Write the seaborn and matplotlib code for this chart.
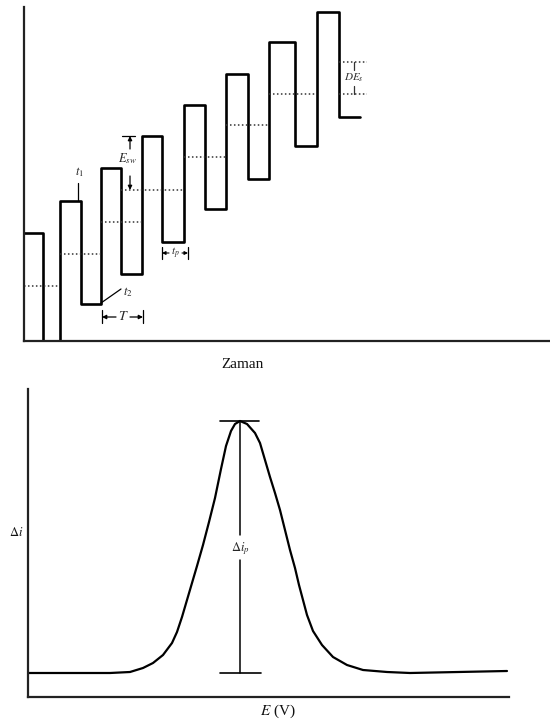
import matplotlib
matplotlib.use("Agg")
import matplotlib.pyplot as plt
import seaborn as sns
import pandas as pd

# ---------------- data ----------------
# Top: staircase square-wave potential (time units arbitrary)
t_edges = [0.0, 1.9, 3.6, 5.7, 7.7, 9.7, 11.8, 13.8, 16.0, 18.1, 20.2, 22.4,
           24.5, 27.1, 29.3, 31.5, 33.6]
E_levels = [10.8, 0.0, 14.0, 3.7, 17.3, 6.7, 20.5, 9.9, 23.6, 13.2, 26.7, 16.2,
            29.9, 19.5, 32.9, 22.4, 22.4]
# dotted staircase mid-levels: (start, end, level)
mid_start = [0.0, 3.6, 7.7, 9.7, 16.0, 20.2, 24.5, 31.5, 31.5]
mid_end = [3.6, 7.7, 11.8, 16.0, 20.2, 24.5, 29.3, 34.3, 34.3]
mid_level = [5.5, 8.7, 11.9, 15.1, 18.4, 21.6, 24.7, 24.7, 27.9]

# Bottom: differential pulse voltammogram
E_V = [0.00, 0.82, 1.02, 1.15, 1.25, 1.35, 1.44, 1.49, 1.54, 1.59, 1.64, 1.69,
       1.75, 1.81, 1.87, 1.93, 1.98, 2.03, 2.07, 2.12, 2.19, 2.27, 2.32, 2.37,
       2.42, 2.47, 2.52, 2.57, 2.62, 2.67, 2.71, 2.75, 2.79, 2.85, 2.94, 3.05,
       3.19, 3.35, 3.59, 3.82, 4.79]
delta_i = [0.24, 0.24, 0.25, 0.29, 0.34, 0.42, 0.54, 0.65, 0.80, 0.97, 1.14, 1.31,
           1.52, 1.75, 1.99, 2.28, 2.51, 2.66, 2.73, 2.76, 2.73, 2.64, 2.54, 2.37,
           2.20, 2.04, 1.87, 1.67, 1.47, 1.29, 1.12, 0.97, 0.82, 0.66, 0.52, 0.40,
           0.32, 0.27, 0.25, 0.24, 0.26]
peak_E = 2.12
peak_top = 2.76
peak_base = 0.24

# ---------------- style ----------------
sns.set_theme(style="white")
plt.rcParams["font.family"] = ["Liberation Serif", "DejaVu Serif"]
plt.rcParams["mathtext.fontset"] = "stix"

fig = plt.figure(figsize=(5.5, 7.23), dpi=100)
fig.patch.set_facecolor("white")

ax1 = fig.add_axes([24 / 550, (723 - 341) / 723, 526 / 550, 334 / 723])
ax2 = fig.add_axes([28 / 550, (723 - 697) / 723, 481 / 550, 308 / 723])

for ax in (ax1, ax2):
    ax.set_facecolor("white")
    for s in ("top", "right"):
        ax.spines[s].set_visible(False)
    for s in ("left", "bottom"):
        ax.spines[s].set_color("#222222")
        ax.spines[s].set_linewidth(1.6)

# ---------------- top panel ----------------
wave = pd.DataFrame({"t": t_edges, "E": E_levels})
sns.lineplot(data=wave, x="t", y="E", ax=ax1, color="black", lw=1.9,
             drawstyle="steps-post", estimator=None, sort=False)
for a, b, lv in zip(mid_start, mid_end, mid_level):
    ax1.plot([a, b], [lv, lv], color="#333333", lw=1.1, ls=(0, (1, 1.6)))

ax1.set_xlim(0, 52.6)
ax1.set_ylim(0, 33.4)
ax1.set_xlabel("")
ax1.set_ylabel("")
ax1.set_xticks([])
ax1.set_yticks([])

# t1
ax1.plot([5.4, 5.4], [14.1, 15.8], color="black", lw=0.9)
ax1.text(5.5, 16.9, "$t_1$", fontsize=9, ha="center", va="center")
# t2
ax1.plot([7.7, 9.7], [3.8, 5.2], color="black", lw=0.9)
ax1.text(10.4, 4.9, "$t_2$", fontsize=9, ha="center", va="center")
# T
for xb in (7.8, 11.9):
    ax1.plot([xb, xb], [1.8, 3.1], color="black", lw=0.9)
ax1.annotate("", xy=(7.8, 2.4), xytext=(9.2, 2.4),
             arrowprops=dict(arrowstyle="-|>", color="black", lw=0.9,
                             mutation_scale=6, shrinkA=0, shrinkB=0))
ax1.annotate("", xy=(11.9, 2.4), xytext=(10.6, 2.4),
             arrowprops=dict(arrowstyle="-|>", color="black", lw=0.9,
                             mutation_scale=6, shrinkA=0, shrinkB=0))
ax1.text(9.9, 2.4, "$T$", fontsize=10, ha="center", va="center")
# E_sw
ax1.plot([9.8, 11.1], [20.5, 20.5], color="black", lw=0.9)
ax1.annotate("", xy=(10.6, 20.5), xytext=(10.6, 19.2),
             arrowprops=dict(arrowstyle="-|>", color="black", lw=0.9,
                             mutation_scale=6, shrinkA=0, shrinkB=0))
ax1.annotate("", xy=(10.6, 15.1), xytext=(10.6, 16.5),
             arrowprops=dict(arrowstyle="-|>", color="black", lw=0.9,
                             mutation_scale=6, shrinkA=0, shrinkB=0))
ax1.text(10.3, 18.2, "$E_{sw}$", fontsize=9, ha="center", va="center")
# t_p
for xb in (13.8, 16.4):
    ax1.plot([xb, xb], [8.2, 9.4], color="black", lw=0.9)
ax1.annotate("", xy=(13.8, 8.8), xytext=(14.5, 8.8),
             arrowprops=dict(arrowstyle="-|>", color="black", lw=0.8,
                             mutation_scale=5, shrinkA=0, shrinkB=0))
ax1.annotate("", xy=(16.4, 8.8), xytext=(15.8, 8.8),
             arrowprops=dict(arrowstyle="-|>", color="black", lw=0.8,
                             mutation_scale=5, shrinkA=0, shrinkB=0))
ax1.text(15.1, 8.8, "$t_p$", fontsize=8, ha="center", va="center")
# DE_s
ax1.plot([33.0, 33.0], [27.9, 27.1], color="#333333", lw=0.9)
ax1.plot([33.0, 33.0], [24.7, 25.5], color="#333333", lw=0.9)
ax1.text(33.0, 26.3, "$DE_s$", fontsize=8, ha="center", va="center",
         color="#333333")

# ---------------- bottom panel ----------------
dpv = pd.DataFrame({"E": E_V, "di": delta_i})
sns.lineplot(data=dpv, x="E", y="di", ax=ax2, color="black", lw=1.6,
             estimator=None, sort=False)
ax2.set_xlim(0, 4.81)
ax2.set_ylim(0, 3.08)
ax2.set_xlabel("")
ax2.set_ylabel("")
ax2.set_xticks([])
ax2.set_yticks([])

ax2.plot([1.92, 2.31], [peak_top, peak_top], color="black", lw=1.2)
ax2.plot([1.92, 2.33], [peak_base, peak_base], color="black", lw=1.2)
ax2.plot([peak_E, peak_E], [peak_top, 1.62], color="black", lw=1.1)
ax2.plot([peak_E, peak_E], [1.37, peak_base], color="black", lw=1.1)
ax2.text(peak_E, 1.48, r"$\Delta i_p$", fontsize=9, ha="center", va="center")

# axis titles as figure text (positions from the reference)
fig.text(243 / 550, 1 - 364 / 723, "Zaman", fontsize=11, ha="center",
         va="center", color="#111111")
fig.text(278 / 550, 1 - 711 / 723, "$E$ (V)", fontsize=11, ha="center",
         va="center", color="#111111")
fig.text(16 / 550, 1 - 533 / 723, r"$\Delta i$", fontsize=9, ha="center",
         va="center", color="#111111")

fig.savefig("out.png", dpi=100, facecolor="white")
